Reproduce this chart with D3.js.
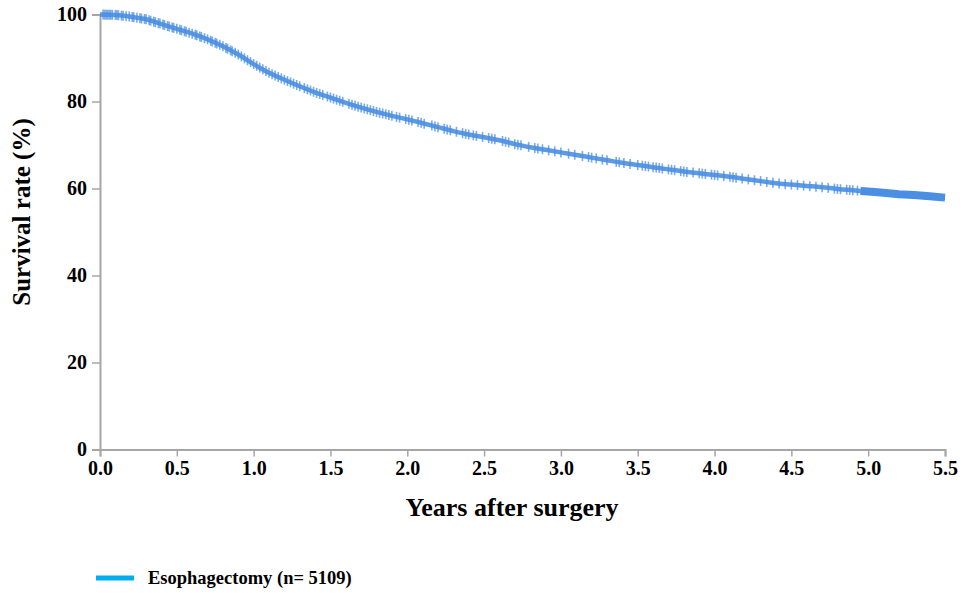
<!DOCTYPE html>
<html><head><meta charset="utf-8">
<script src="https://cdn.jsdelivr.net/npm/d3@7/dist/d3.min.js"></script>
<style>body{margin:0;background:#fff}svg{display:block}text{font-family:"Liberation Serif","Times New Roman",serif;font-weight:bold;fill:#000}</style>
</head><body><svg id="c" width="972" height="593"></svg>
<script>
const years = [0.0,0.1,0.2,0.3,0.4,0.5,0.6,0.7,0.8,0.9,1.0,1.1,1.2,1.3,1.4,1.5,1.6,1.7,1.8,1.9,2.0,2.1,2.2,2.3,2.4,2.5,2.6,2.7,2.8,2.9,3.0,3.1,3.2,3.3,3.4,3.5,3.6,3.7,3.8,3.9,4.0,4.1,4.2,4.3,4.4,4.5,4.6,4.7,4.8,4.9,5.0,5.1,5.2,5.3,5.4,5.5];
const survival = [100,99.9,99.5,98.9,97.8,96.7,95.6,94.3,92.7,90.8,88.6,86.6,85.0,83.5,82.1,80.9,79.7,78.6,77.6,76.7,75.9,75.0,74.1,73.2,72.4,71.8,71.1,70.2,69.5,68.9,68.3,67.7,67.1,66.5,65.9,65.4,64.9,64.4,63.9,63.5,63.1,62.7,62.2,61.7,61.2,60.9,60.6,60.3,59.9,59.6,59.3,59.0,58.7,58.5,58.2,57.9];
const censorTimes = [0.02,0.03,0.04,0.05,0.06,0.07,0.08,0.1,0.11,0.12,0.14,0.15,0.17,0.19,0.21,0.22,0.24,0.26,0.27,0.29,0.3,0.32,0.33,0.35,0.36,0.38,0.39,0.41,0.42,0.44,0.45,0.47,0.48,0.5,0.52,0.53,0.55,0.56,0.58,0.6,0.62,0.63,0.65,0.66,0.68,0.7,0.72,0.73,0.75,0.76,0.78,0.8,0.82,0.83,0.85,0.86,0.88,0.9,0.92,0.94,0.96,0.98,1.0,1.02,1.04,1.06,1.08,1.1,1.12,1.14,1.16,1.18,1.2,1.22,1.24,1.26,1.28,1.3,1.33,1.35,1.37,1.39,1.41,1.43,1.45,1.48,1.5,1.52,1.54,1.56,1.58,1.62,1.64,1.66,1.68,1.7,1.72,1.74,1.76,1.78,1.8,1.82,1.84,1.86,1.88,1.9,1.93,1.95,1.99,2.01,2.03,2.07,2.09,2.11,2.16,2.18,2.2,2.24,2.26,2.28,2.32,2.36,2.38,2.4,2.43,2.45,2.49,2.53,2.55,2.57,2.62,2.64,2.66,2.7,2.72,2.74,2.79,2.83,2.85,2.88,2.92,2.96,3.0,3.05,3.09,3.14,3.18,3.2,3.23,3.27,3.3,3.36,3.38,3.41,3.45,3.5,3.53,3.55,3.57,3.6,3.62,3.64,3.66,3.7,3.72,3.74,3.78,3.8,3.82,3.86,3.9,3.92,3.94,3.98,4.0,4.02,4.06,4.1,4.12,4.14,4.18,4.22,4.26,4.3,4.34,4.38,4.42,4.46,4.5,4.54,4.58,4.62,4.66,4.7,4.74,4.78,4.8,4.82,4.86,4.88,4.9,4.93];
const denseCensorSpan = [4.95, 5.5];
const xTicks = [0,0.5,1,1.5,2,2.5,3,3.5,4,4.5,5,5.5];
const yTicks = [0,20,40,60,80,100];
const seriesName = "Esophagectomy (n= 5109)";
const xTitle = "Years after surgery";
const yTitle = "Survival rate (%)";

const svg = d3.select("#c");
const x = d3.scaleLinear().domain([0,5.5]).range([100,945]);
const y = d3.scaleLinear().domain([0,100]).range([449.5,14.5]);
const axisColor = "#a6a6a6";
const curveColor = "#4a8fe3";

// axes
const gx = svg.append("g").attr("transform","translate(0,449.5)")
  .call(d3.axisBottom(x).tickValues(xTicks).tickFormat(d3.format(".1f")).tickSizeOuter(0).tickSize(7).tickPadding(4));
gx.selectAll("line").attr("stroke",axisColor).attr("stroke-width",1.5);
gx.select(".domain").attr("stroke",axisColor).attr("stroke-width",2);
gx.selectAll("text").attr("font-size",20).attr("font-family","Liberation Serif").attr("font-weight","bold").attr("fill","#000").attr("dy","0.72em");

const gy = svg.append("g").attr("transform","translate(100,0)")
  .call(d3.axisLeft(y).tickValues(yTicks).tickSizeOuter(0).tickSize(8).tickPadding(5));
gy.selectAll("line").attr("stroke",axisColor).attr("stroke-width",1.5);
gy.select(".domain").attr("stroke",axisColor).attr("stroke-width",2);
gy.selectAll("text").attr("font-size",20).attr("font-family","Liberation Serif").attr("font-weight","bold").attr("fill","#000").attr("dy","0.3em");

// curve
const line = d3.line().x((d,i)=>x(years[i])).y(d=>y(d)).curve(d3.curveMonotoneX);
svg.append("path").datum(survival).attr("d",line).attr("fill","none")
  .attr("stroke",curveColor).attr("stroke-width",4.5).attr("stroke-linejoin","round").attr("opacity",0.9);

const interp = t => {
  const i = Math.min(years.length-2, Math.max(0, d3.bisectRight(years,t)-1));
  const f = (t-years[i])/(years[i+1]-years[i]);
  return survival[i] + f*(survival[i+1]-survival[i]);
};
svg.append("g").selectAll("line").data(censorTimes).join("line")
  .attr("x1",d=>x(d)).attr("x2",d=>x(d))
  .attr("y1",d=>y(interp(d))-5).attr("y2",d=>y(interp(d))+5)
  .attr("stroke",curveColor).attr("stroke-width",1.6).attr("opacity",0.75);

// dense censored band
const denseIdx = years.map((t,i)=>i).filter(i=>years[i]>denseCensorSpan[0]);
const densePts = [[denseCensorSpan[0], interp(denseCensorSpan[0])]].concat(denseIdx.map(i=>[years[i],survival[i]]));
svg.append("path").datum(densePts)
  .attr("d", d3.line().x(d=>x(d[0])).y(d=>y(d[1])))
  .attr("fill","none").attr("stroke",curveColor).attr("stroke-width",8);

// axis titles
svg.append("text").attr("x",512).attr("y",516).attr("text-anchor","middle").attr("font-size",26).text(xTitle);
svg.append("text").attr("transform","translate(30,212) rotate(-90)").attr("text-anchor","middle").attr("font-size",25).text(yTitle);

// legend
svg.append("line").attr("x1",96).attr("x2",134).attr("y1",578).attr("y2",578).attr("stroke","#00aeef").attr("stroke-width",5);
svg.append("text").attr("x",148).attr("y",584).attr("font-size",18.5).text(seriesName);
</script></body></html>
